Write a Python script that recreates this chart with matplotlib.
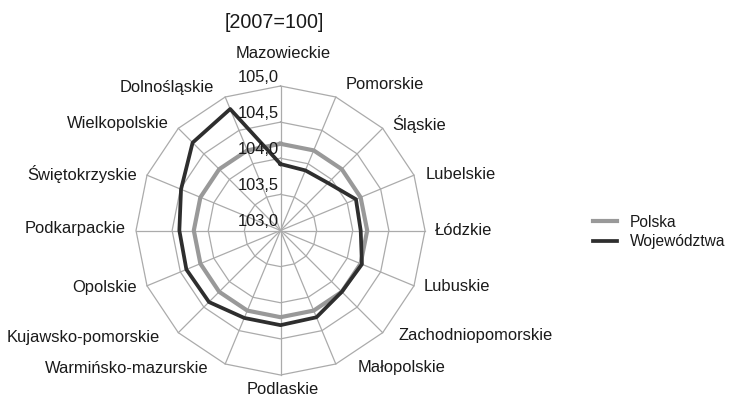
import numpy as np
import matplotlib
matplotlib.use("Agg")
import matplotlib.pyplot as plt
import matplotlib.transforms as mtransforms

# Regional index values, 2007 = 100
categories = [
    "Mazowieckie", "Pomorskie", "Śląskie", "Lubelskie", "Łódzkie",
    "Lubuskie", "Zachodniopomorskie", "Małopolskie", "Podlaskie",
    "Warmińsko-mazurskie", "Kujawsko-pomorskie", "Opolskie",
    "Podkarpackie", "Świętokrzyskie", "Wielkopolskie", "Dolnośląskie",
]
polska = [104.2, 104.2, 104.2, 104.2, 104.2, 104.2, 104.2, 104.2,
          104.2, 104.2, 104.2, 104.2, 104.2, 104.2, 104.2, 104.2]
wojewodztwa = [103.92, 103.90, 103.93, 104.13, 104.11, 104.22, 104.20, 104.30,
               104.31, 104.31, 104.40, 104.41, 104.40, 104.49, 104.72, 104.82]
ring_values = [103.0, 103.5, 104.0, 104.5, 105.0]
ring_labels = ["103,0", "103,5", "104,0", "104,5", "105,0"]
title = "[2007=100]"
series_names = ["Polska", "Województwa"]

# Label placement around the outer ring: (dx, dy) in pixels, y pointing down
label_offsets = [
    (2.5, -33), (10, -12), (9.5, -4), (11.5, -1), (10, 0), (10, 0.5),
    (16, 2.5), (21.5, 3), (2.5, 15), (-17, 4), (-18, 5), (-10.5, 1.5),
    (-10, -2), (-10, -1.5), (-10, -5), (-11, -9),
]

plt.rcParams["font.family"] = ["Liberation Sans", "DejaVu Sans"]
TXT = "#1a1a1a"
GRID = "#ababab"
FS = 11.9
LEG_FS = 11.2

W, H, DPI = 730, 398, 100
fig = plt.figure(figsize=(W / DPI, H / DPI), dpi=DPI)
cx, cy, R = 280.5, 230.5, 144.5
ax = fig.add_axes([(cx - R) / W, (H - cy - R) / H, 2 * R / W, 2 * R / H],
                  projection="polar")
ax.set_theta_zero_location("N")
ax.set_theta_direction(-1)
ax.set_ylim(ring_values[0], ring_values[-1])
ax.grid(False)
ax.set_xticks([])
ax.set_yticks([])
ax.spines["polar"].set_visible(False)
ax.patch.set_visible(False)

n = len(categories)
theta = np.arange(n) * 2 * np.pi / n
theta_closed = np.append(theta, theta[0])

# Polygon grid rings and spokes
for rv in ring_values[1:]:
    ax.plot(theta_closed, [rv] * (n + 1), color=GRID, lw=0.9, clip_on=False, zorder=1)
for t in theta:
    ax.plot([t, t], [ring_values[0], ring_values[-1]], color=GRID, lw=0.9,
            clip_on=False, zorder=1)

# Series
ax.plot(theta_closed, polska + polska[:1], color="#999999", lw=3.0,
        label=series_names[0], clip_on=False, zorder=3)
ax.plot(theta_closed, wojewodztwa + wojewodztwa[:1], color="#2e2e2e", lw=2.7,
        label=series_names[1], clip_on=False, zorder=4)

# Radial scale labels along the top spoke
for rv, lab in zip(ring_values, ring_labels):
    tr = mtransforms.offset_copy(ax.transData, fig=fig, x=-2, y=9, units="dots")
    ax.text(0, rv, lab, transform=tr, ha="right", va="center",
            fontsize=FS, color=TXT, zorder=5)

# Category labels
for t, lab, (dx, dy) in zip(theta, categories, label_offsets):
    deg = np.degrees(t)
    if np.isclose(deg, 0) or np.isclose(deg, 180):
        ha = "center"
    elif deg < 180:
        ha = "left"
    else:
        ha = "right"
    tr = mtransforms.offset_copy(ax.transData, fig=fig, x=dx, y=-dy, units="dots")
    ax.text(t, ring_values[-1], lab, transform=tr, ha=ha, va="center",
            fontsize=FS, color=TXT, clip_on=False)

fig.text(274.5 / W, 1 - 22.7 / H, title, ha="center", va="center",
         fontsize=14.2, color=TXT)

fig.legend(loc="center left", bbox_to_anchor=(582 / W, 1 - 232 / H),
           frameon=False, fontsize=LEG_FS, handlelength=1.55, handletextpad=0.85,
           labelspacing=0.3, labelcolor=TXT, borderaxespad=0.3)

fig.savefig("out.png", dpi=DPI, facecolor="white")
